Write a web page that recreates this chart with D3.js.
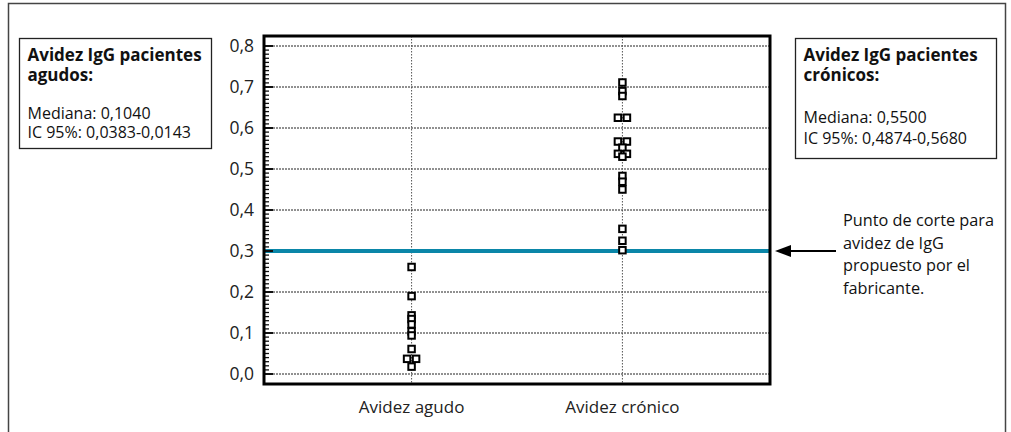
<!DOCTYPE html>
<html>
<head>
<meta charset="utf-8">
<script src="https://cdn.jsdelivr.net/npm/d3@7"></script>
<style>
  body { margin: 0; background: #fff; }
  svg { display: block; font-family: "Open Sans", "Noto Sans", sans-serif; }
</style>
</head>
<body>
<div id="chart"></div>
<script>
// Data
const categories = ['Avidez agudo', 'Avidez crónico'];
const agudoValues = [0.261, 0.190, 0.143, 0.134, 0.121, 0.104, 0.094, 0.061, 0.037, 0.037, 0.018];
const cronicoValues = [0.711, 0.690, 0.678, 0.625, 0.625, 0.567, 0.567, 0.552, 0.537, 0.537, 0.530,
    0.483, 0.469, 0.450, 0.354, 0.325, 0.302];
const yTicks = [0, 0.1, 0.2, 0.3, 0.4, 0.5, 0.6, 0.7, 0.8];
const cutoff = 0.3;
const leftBoxLines = ['Avidez IgG pacientes', 'agudos:', 'Mediana: 0,1040', 'IC 95%: 0,0383-0,0143'];
const rightBoxLines = ['Avidez IgG pacientes', 'crónicos:', 'Mediana: 0,5500', 'IC 95%: 0,4874-0,5680'];
const noteLines = ['Punto de corte para', 'avidez de IgG', 'propuesto por el', 'fabricante.'];

const width = 1011, height = 432;
const plot = { left: 264, right: 770, top: 36, bottom: 384 };

const svg = d3.select('#chart')
    .append('svg')
    .attr('width', width)
    .attr('height', height);

// Outer frame
svg.append('rect')
    .attr('x', 8.5).attr('y', 3.5)
    .attr('width', 997).attr('height', 450)
    .attr('fill', 'none')
    .attr('stroke', '#444')
    .attr('stroke-width', 1.5);

// Scales
const y = d3.scaleLinear().domain([0, 0.8]).range([374, 46]);
const x = d3.scalePoint().domain(categories).range([plot.left, plot.right]).padding(0.7);

const fmt = d => d3.format('.1f')(d).replace('.', ',');

// Horizontal dotted gridlines
svg.append('g')
    .selectAll('line')
    .data(yTicks)
    .enter()
    .append('line')
    .attr('x1', plot.left).attr('x2', plot.right)
    .attr('y1', d => y(d)).attr('y2', d => y(d))
    .attr('stroke', '#222')
    .attr('stroke-width', 1)
    .attr('stroke-dasharray', '2,1');

// Vertical dotted lines per category
svg.append('g')
    .selectAll('line')
    .data(categories)
    .enter()
    .append('line')
    .attr('x1', d => x(d)).attr('x2', d => x(d))
    .attr('y1', plot.top).attr('y2', plot.bottom)
    .attr('stroke', '#555')
    .attr('stroke-width', 1)
    .attr('stroke-dasharray', '1.5,1.5');

// Cutoff line
svg.append('line')
    .attr('x1', plot.left).attr('x2', plot.right)
    .attr('y1', y(cutoff)).attr('y2', y(cutoff))
    .attr('stroke', '#0a86a8')
    .attr('stroke-width', 4);

// Minor + major ticks on inner side of left axis
const minor = d3.range(0, 81).map(i => i / 100);
svg.append('g')
    .selectAll('line')
    .data(minor)
    .enter()
    .append('line')
    .attr('x1', plot.left)
    .attr('x2', (d, i) => plot.left + (i % 10 === 0 ? 9 : 5))
    .attr('y1', d => y(d)).attr('y2', d => y(d))
    .attr('stroke', '#111')
    .attr('stroke-width', (d, i) => i % 10 === 0 ? 2 : 1.3);

// Y labels
svg.append('g')
    .selectAll('text')
    .data(yTicks)
    .enter()
    .append('text')
    .attr('x', 254)
    .attr('y', d => y(d))
    .attr('dy', '0.35em')
    .attr('text-anchor', 'end')
    .attr('font-size', 17.5)
    .attr('fill', '#222')
    .text(fmt);

// X labels
svg.append('g')
    .selectAll('text')
    .data(categories)
    .enter()
    .append('text')
    .attr('x', d => x(d))
    .attr('y', 413)
    .attr('text-anchor', 'middle')
    .attr('font-size', 17)
    .attr('fill', '#222')
    .text(d => d);

// Points: identical values are spread side by side
const sq = 6.5, gap = 9;
function dodge(values, cat) {
    const counts = d3.rollup(values, v => v.length, v => v);
    const seen = new Map();
    return values.map(v => {
        const n = counts.get(v);
        const i = seen.get(v) || 0;
        seen.set(v, i + 1);
        return { cat, value: v, dx: (i - (n - 1) / 2) * gap };
    });
}
const points = dodge(agudoValues, categories[0]).concat(dodge(cronicoValues, categories[1]));

svg.append('g')
    .selectAll('rect')
    .data(points)
    .enter()
    .append('rect')
    .attr('x', d => x(d.cat) + d.dx - sq / 2)
    .attr('y', d => y(d.value) - sq / 2)
    .attr('width', sq).attr('height', sq)
    .attr('fill', '#fff')
    .attr('stroke', '#000')
    .attr('stroke-width', 2);

// Plot border
svg.append('rect')
    .attr('x', plot.left).attr('y', plot.top)
    .attr('width', plot.right - plot.left)
    .attr('height', plot.bottom - plot.top)
    .attr('fill', 'none')
    .attr('stroke', '#000')
    .attr('stroke-width', 3);

// Info boxes
function infoBox(bx, by, bw, bh, lines, lineY) {
    const g = svg.append('g');
    g.append('rect')
        .attr('x', bx).attr('y', by)
        .attr('width', bw).attr('height', bh)
        .attr('fill', '#fff')
        .attr('stroke', '#222')
        .attr('stroke-width', 1.3);
    lines.forEach((t, i) => {
        g.append('text')
            .attr('x', bx + 8)
            .attr('y', lineY[i])
            .attr('font-size', i < 2 ? 17 : 16)
            .attr('font-weight', i < 2 ? 'bold' : 'normal')
            .attr('fill', '#111')
            .text(t);
    });
}
infoBox(19.5, 38.5, 192, 110, leftBoxLines, [61, 81, 119, 138]);
infoBox(795.5, 38.5, 201, 120, rightBoxLines, [61, 81, 123, 144]);

// Arrow to cutoff
const ay = y(cutoff);
svg.append('line')
    .attr('x1', 836).attr('x2', 788)
    .attr('y1', ay).attr('y2', ay)
    .attr('stroke', '#000')
    .attr('stroke-width', 2);
svg.append('path')
    .attr('d', `M775,${ay} L791,${ay - 6} L791,${ay + 6} Z`)
    .attr('fill', '#000');

// Note text
svg.append('g')
    .selectAll('text')
    .data(noteLines)
    .enter()
    .append('text')
    .attr('x', 843)
    .attr('y', (d, i) => 226 + i * 22.5)
    .attr('font-size', 16.3)
    .attr('fill', '#111')
    .text(d => d);
</script>
</body>
</html>
